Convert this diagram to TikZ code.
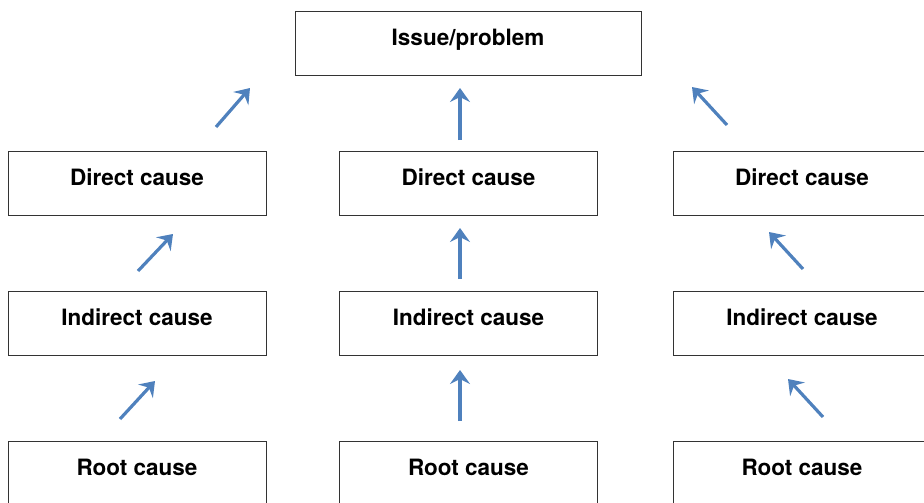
\documentclass[tikz,border=0pt]{standalone}
\usepackage{fontspec}
\setmainfont{TeX Gyre Heros}
\usetikzlibrary{arrows.meta}
\definecolor{arrowblue}{HTML}{4F81BD}
\begin{document}
\begin{tikzpicture}[x=1pt,y=-1pt,
  cause box/.style={draw=black!80,line width=0.9pt,minimum width=258pt,minimum height=64pt,
    inner sep=0pt,text height=34pt,text depth=30pt,font=\bfseries\fontsize{22.5}{26}\selectfont},
  up arrow/.style={draw=arrowblue,line width=3.2pt,-{Stealth[length=14pt,width=20pt,inset=5pt]}}]

  \useasboundingbox (0,0) rectangle (924,503);
  \clip (0,0) rectangle (924,503);

  \node[cause box,minimum width=346pt] (issue) at (468,43.5) {Issue/problem};

  \node[cause box] (direct1) at (137,183) {Direct cause};
  \node[cause box] (direct2) at (468.5,183) {Direct cause};
  \node[cause box] (direct3) at (802,183) {Direct cause};

  \node[cause box] (indirect1) at (137,323) {Indirect cause};
  \node[cause box] (indirect2) at (468.5,323) {Indirect cause};
  \node[cause box] (indirect3) at (802,323) {Indirect cause};

  \node[cause box] (root1) at (137,473) {Root cause};
  \node[cause box] (root2) at (468.5,473) {Root cause};
  \node[cause box] (root3) at (802,473) {Root cause};

  % arrow ends between the rows
  \coordinate (d1s) at (216,127);  \coordinate (d1e) at (250,88);
  \coordinate (d2s) at (460,140);  \coordinate (d2e) at (460,88);
  \coordinate (d3s) at (727,125);  \coordinate (d3e) at (692,87);
  \coordinate (i1s) at (138,271);  \coordinate (i1e) at (173,234);
  \coordinate (i2s) at (460,279);  \coordinate (i2e) at (460,228);
  \coordinate (i3s) at (803,269);  \coordinate (i3e) at (769,232);
  \coordinate (r1s) at (120,419);  \coordinate (r1e) at (155,381);
  \coordinate (r2s) at (460,421);  \coordinate (r2e) at (460,370);
  \coordinate (r3s) at (823,417);  \coordinate (r3e) at (788,379);

  \draw[up arrow] (d1s) -- (d1e);
  \draw[up arrow] (d2s) -- (d2e);
  \draw[up arrow] (d3s) -- (d3e);
  \draw[up arrow] (i1s) -- (i1e);
  \draw[up arrow] (i2s) -- (i2e);
  \draw[up arrow] (i3s) -- (i3e);
  \draw[up arrow] (r1s) -- (r1e);
  \draw[up arrow] (r2s) -- (r2e);
  \draw[up arrow] (r3s) -- (r3e);
\end{tikzpicture}
\end{document}
